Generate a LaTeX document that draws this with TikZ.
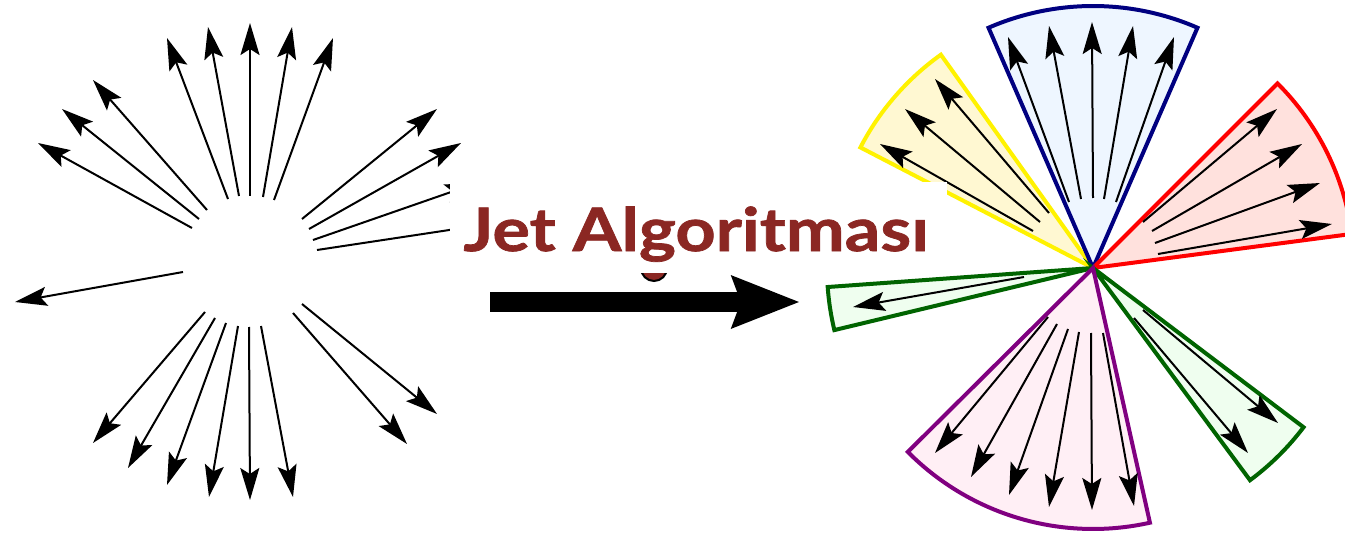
\documentclass[tikz,border=0pt]{standalone}
\usepackage{fontspec}
\setmainfont{Lato}
\newfontfamily\titlefont{Lato}[FakeStretch=1.17, FakeBold=1.2]
\usetikzlibrary{arrows.meta}
\definecolor{jetred}{HTML}{8B2723}
\definecolor{navyline}{HTML}{000080}
\definecolor{bluefill}{HTML}{EEF6FF}
\definecolor{yellowfill}{HTML}{FFF8D2}
\definecolor{redfill}{HTML}{FFE1DD}
\definecolor{greenline}{HTML}{006400}
\definecolor{greenfill}{HTML}{EFFEEF}
\definecolor{purpleline}{HTML}{800080}
\definecolor{purplefill}{HTML}{FFEFF5}
\tikzset{
  ray/.style={line width=1pt, -{Stealth[length=16pt, width=9.5pt, inset=3pt]}},
  cone/.style={line width=2pt, line join=miter},
  bigarrow/.style={line width=10pt, -{Stealth[length=33.5pt, width=25pt, inset=4pt]}}
}

\begin{document}
\begin{tikzpicture}[x=0.5pt, y=-0.5pt]
\clip (0,0) rectangle (1345,535);
\coordinate (hub) at (1093,268);
\draw[cone, draw=yellow, fill=yellowfill] (hub) -- ++(207.4:262) arc[start angle=207.4, end angle=234.5, radius=262] -- cycle;
\draw[cone, draw=navyline, fill=bluefill] (hub) -- ++(246.5:262) arc[start angle=246.5, end angle=293.5, radius=262] -- cycle;
\draw[cone, draw=red, fill=redfill] (hub) -- ++(315:261) arc[start angle=315, end angle=352.5, radius=261] -- cycle;
\draw[cone, draw=greenline, fill=greenfill] (hub) -- ++(166.5:266) arc[start angle=166.5, end angle=175.9, radius=266] -- cycle;
\draw[cone, draw=greenline, fill=greenfill] (hub) -- ++(37.1:264) arc[start angle=37.1, end angle=53.5, radius=264] -- cycle;
\draw[cone, draw=purpleline, fill=purplefill] (hub) -- ++(77.4:261) arc[start angle=77.4, end angle=135.2, radius=261] -- cycle;
\foreach \ax/\ay/\bx/\by in {
  228/199/167/38, 239/196/208/27, 250/196/250/23, 263/197/292/27, 274/200/333/38,
  207/210/93/80, 199/219/62/109, 192/228/38/143, 183/272/15/302,
  302/219/437/109, 309/229/461/143, 313/240/477/183, 317/250/489/224,
  205/312/93/443, 215/318/128/468, 226/323/167/485, 238/326/209/497,
  249/327/250/500, 261/326/293/497, 293/313/407/444, 302/304/437/414,
  1033/231/880/144, 1040/222/905/109, 1049/213/935/79,
  1069/202/1008/37, 1081/199/1049/26, 1093/198/1092/22, 1104/199/1133/26, 1116/202/1174/37,
  1143/222/1277/109, 1152/231/1302/144, 1155/243/1320/183, 1158/254/1332/224,
  1024/277/853/307, 1143/310/1278/423, 1134/318/1248/453,
  1048/317/935/453, 1057/324/971/477, 1068/329/1009/495, 1079/332/1049/507,
  1091/333/1092/510, 1103/333/1134/506}
  \draw[ray] (\ax,\ay) -- (\bx,\by);
\filldraw[fill=jetred, draw=black, line width=1pt] (654,268) circle[radius=13];
\fill[white] (450,182) rectangle (947,273);
\node[text=jetred, font=\titlefont\bfseries\fontsize{30}{36}\selectfont, anchor=base west, inner sep=0pt] (title) at (463,251) {Jet Algoritması};
\coordinate (from) at (490,302);
\coordinate (to) at (800,302);
\draw[bigarrow] (from) -- (to);
\end{tikzpicture}
\end{document}
